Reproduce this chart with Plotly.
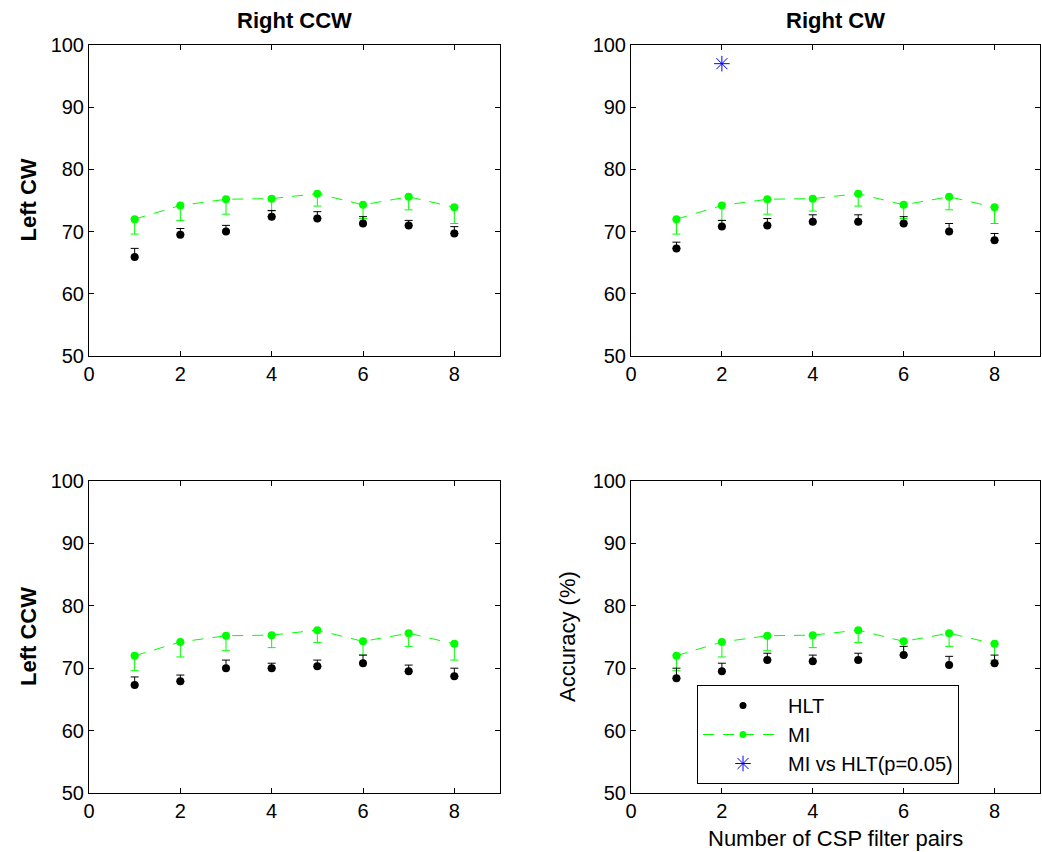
import plotly.graph_objects as go
from plotly.subplots import make_subplots

# Number of CSP filter pairs
n_pairs = [1, 2, 3, 4, 5, 6, 7, 8]

# MI accuracy (mean and lower spread), same in every panel
mi_mean = [72.0, 74.2, 75.2, 75.3, 76.1, 74.3, 75.6, 73.9]
mi_err = [2.4, 2.4, 2.4, 2.0, 2.0, 2.2, 2.1, 2.6]

# HLT accuracy per class pair (mean and upper spread)
hlt_lcw_rccw = [65.9, 69.5, 70.0, 72.4, 72.1, 71.3, 71.0, 69.7]
hlt_lcw_rccw_err = [1.4, 1.0, 1.0, 1.0, 1.1, 1.1, 0.8, 1.1]
hlt_lcw_rcw = [67.3, 70.8, 71.0, 71.6, 71.6, 71.3, 70.0, 68.6]
hlt_lcw_rcw_err = [1.0, 1.0, 1.1, 1.1, 1.1, 1.1, 1.3, 1.1]
hlt_lccw_rccw = [67.3, 67.9, 70.0, 70.0, 70.3, 70.8, 69.5, 68.7]
hlt_lccw_rccw_err = [1.3, 1.0, 1.3, 0.8, 1.0, 1.3, 1.0, 1.3]
hlt_lccw_rcw = [68.4, 69.5, 71.3, 71.1, 71.3, 72.1, 70.5, 70.8]
hlt_lccw_rcw_err = [1.6, 1.3, 1.1, 1.0, 1.1, 1.4, 1.4, 1.3]

# Significant differences (MI vs HLT, p=0.05) in the Left CW / Right CW panel
sig_x = [2]
sig_y = [97.0]

col_titles = ["Right CCW", "Right CW"]
row_titles = ["Left CW", "Left CCW"]

FONT = "Liberation Sans, Arial, Helvetica, sans-serif"
GREEN = "#00ff00"
TICK_SIZE = 20
TEXT_SIZE = 22
LEGEND_SIZE = 20

W, H = 1042, 852
xdom = [(89 / W, 500 / W), (631 / W, 1040 / W)]
ydom = [((H - 356) / H, (H - 45) / H), ((H - 793) / H, (H - 481) / H)]

fig = make_subplots(rows=2, cols=2)

panels = {
    (1, 1): (hlt_lcw_rccw, hlt_lcw_rccw_err),
    (1, 2): (hlt_lcw_rcw, hlt_lcw_rcw_err),
    (2, 1): (hlt_lccw_rccw, hlt_lccw_rccw_err),
    (2, 2): (hlt_lccw_rcw, hlt_lccw_rcw_err),
}

for (r, c), (hlt, hlt_err) in panels.items():
    fig.add_trace(go.Scatter(
        x=n_pairs, y=mi_mean, mode="lines+markers", name="MI",
        line=dict(color=GREEN, width=1, dash="11px,9px"),
        marker=dict(color=GREEN, size=8),
        error_y=dict(type="data", symmetric=False, array=[0] * len(mi_err),
                     arrayminus=mi_err, color=GREEN, thickness=1, width=4),
        showlegend=False,
    ), row=r, col=c)
    fig.add_trace(go.Scatter(
        x=n_pairs, y=hlt, mode="markers", name="HLT",
        marker=dict(color="black", size=8),
        error_y=dict(type="data", symmetric=False, array=hlt_err,
                     arrayminus=[0] * len(hlt_err), color="black", thickness=1, width=4),
        showlegend=False,
    ), row=r, col=c)

# legend entries
fig.add_trace(go.Scatter(
    x=[None], y=[None], mode="markers", name="HLT",
    marker=dict(color="black", size=7), showlegend=True, legendrank=1,
), row=2, col=2)
fig.add_trace(go.Scatter(
    x=[None], y=[None], mode="lines+markers", name="MI",
    line=dict(color=GREEN, width=1, dash="11px,9px"),
    marker=dict(color=GREEN, size=7), showlegend=True, legendrank=2,
), row=2, col=2)

fig.add_trace(go.Scatter(
    x=sig_x, y=sig_y, mode="markers", name="MI vs HLT(p=0.05)",
    marker=dict(symbol="asterisk-open", color="blue", size=13,
                line=dict(color="blue", width=1)),
    showlegend=True, legendrank=3,
), row=1, col=2)

axis_common = dict(
    showline=True, linecolor="black", linewidth=1, mirror="ticks",
    ticks="inside", ticklen=5, tickcolor="black", tickwidth=1,
    showgrid=False, zeroline=False, automargin=False,
    tickfont=dict(family=FONT, size=TICK_SIZE, color="black"),
)

for r in (1, 2):
    for c in (1, 2):
        fig.update_xaxes(range=[0, 9], tickvals=[0, 2, 4, 6, 8], domain=xdom[c - 1],
                         row=r, col=c, **axis_common)
        fig.update_yaxes(range=[50, 100], tickvals=[50, 60, 70, 80, 90, 100],
                         domain=ydom[r - 1], row=r, col=c, **axis_common)

annotations = []
for c, t in enumerate(col_titles):
    annotations.append(dict(
        text="<b>%s</b>" % t, x=(xdom[c][0] + xdom[c][1]) / 2, y=(H - 20) / H,
        xref="paper", yref="paper", showarrow=False,
        font=dict(family=FONT, size=TEXT_SIZE, color="black"),
        xanchor="center", yanchor="middle"))
for r, t in enumerate(row_titles):
    annotations.append(dict(
        text="<b>%s</b>" % t, x=28 / W, y=(ydom[r][0] + ydom[r][1]) / 2,
        xref="paper", yref="paper", showarrow=False, textangle=-90,
        font=dict(family=FONT, size=TEXT_SIZE, color="black"),
        xanchor="center", yanchor="middle"))
annotations.append(dict(
    text="Accuracy (%)", x=567 / W, y=(ydom[1][0] + ydom[1][1]) / 2,
    xref="paper", yref="paper", showarrow=False, textangle=-90,
    font=dict(family=FONT, size=TEXT_SIZE, color="black"),
    xanchor="center", yanchor="middle"))
annotations.append(dict(
    text="Number of CSP filter pairs", x=(xdom[1][0] + xdom[1][1]) / 2, y=(H - 838) / H,
    xref="paper", yref="paper", showarrow=False,
    font=dict(family=FONT, size=TEXT_SIZE, color="black"),
    xanchor="center", yanchor="middle"))

fig.update_layout(
    width=W, height=H,
    margin=dict(l=0, r=0, t=0, b=0, pad=0, autoexpand=False),
    paper_bgcolor="white", plot_bgcolor="white",
    font=dict(family=FONT, size=TEXT_SIZE, color="black"),
    annotations=annotations,
    legend=dict(
        x=697 / W, y=(H - 685) / H, xanchor="left", yanchor="top",
        bordercolor="black", borderwidth=1, bgcolor="white",
        font=dict(family=FONT, size=LEGEND_SIZE, color="black"),
        itemwidth=80, tracegroupgap=0,
    ),
)

fig.write_html("out.html")
